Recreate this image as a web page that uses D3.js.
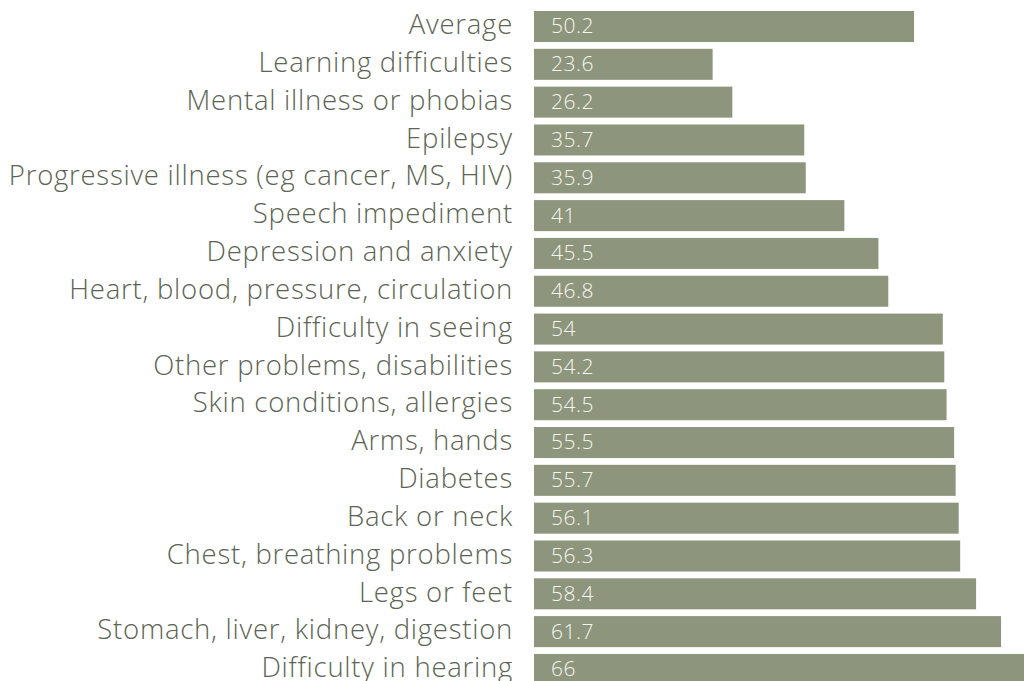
<!DOCTYPE html>
<html>
<head>
<meta charset="utf-8">
<script src="https://cdn.jsdelivr.net/npm/d3@7"></script>
<style>
  body { margin: 0; background: #fff; }
  svg { display: block; }
  .label { font-family: "Open Sans", Lato, sans-serif; font-weight: 350; fill: #5c6453; letter-spacing: 0.75px; }
  .value { font-family: "Open Sans", Lato, sans-serif; font-weight: 300; fill: #f6f6f1; letter-spacing: 0.5px; }
</style>
</head>
<body>
<svg id="chart"></svg>
<script>
const categories = [
  "Average",
  "Learning difficulties",
  "Mental illness or phobias",
  "Epilepsy",
  "Progressive illness (eg cancer, MS, HIV)",
  "Speech impediment",
  "Depression and anxiety",
  "Heart, blood, pressure, circulation",
  "Difficulty in seeing",
  "Other problems, disabilities",
  "Skin conditions, allergies",
  "Arms, hands",
  "Diabetes",
  "Back or neck",
  "Chest, breathing problems",
  "Legs or feet",
  "Stomach, liver, kidney, digestion",
  "Difficulty in hearing"
]
const values = [50.2, 23.6, 26.2, 35.7, 35.9, 41, 45.5, 46.8, 54, 54.2, 54.5, 55.5, 55.7, 56.1, 56.3, 58.4, 61.7, 66]
const valueLabels = ["50.2", "23.6", "26.2", "35.7", "35.9", "41", "45.5", "46.8", "54", "54.2", "54.5", "55.5", "55.7", "56.1", "56.3", "58.4", "61.7", "66"]

const width = 1024, height = 681
const left = 534

const svg = d3.select("#chart").attr("width", width).attr("height", height)

// px per unit ~7.57, so 66 runs off the right edge like the original
let x = d3.scaleLinear().domain([0, 66]).range([left, left + 66 * 7.57])

let y = d3.scaleBand()
    .domain(categories)
    .range([7.6, 7.6 + 18 * 37.82])
    .paddingInner(0.18)
    .paddingOuter(0.09)

let rows = svg.selectAll("g.row")
    .data(categories.map((c, i) => ({ cat: c, value: values[i], text: valueLabels[i] })))
    .enter()
    .append("g")
    .classed("row", true)

rows.append("rect")
    .attr("x", x(0))
    .attr("y", d => y(d.cat))
    .attr("width", d => x(d.value) - x(0))
    .attr("height", y.bandwidth())
    .attr("fill", "#8d957c")

rows.append("text")
    .attr("class", "label")
    .attr("x", x(0) - 21)
    .attr("y", d => y(d.cat) + y.bandwidth() / 2)
    .attr("dy", "0.28em")
    .attr("text-anchor", "end")
    .style("font-size", "27.5px")
    .text(d => d.cat)

rows.append("text")
    .attr("class", "value")
    .attr("x", x(0) + 17)
    .attr("y", d => y(d.cat) + y.bandwidth() / 2)
    .attr("dy", "0.33em")
    .style("font-size", "21px")
    .text(d => d.text)
</script>
</body>
</html>
